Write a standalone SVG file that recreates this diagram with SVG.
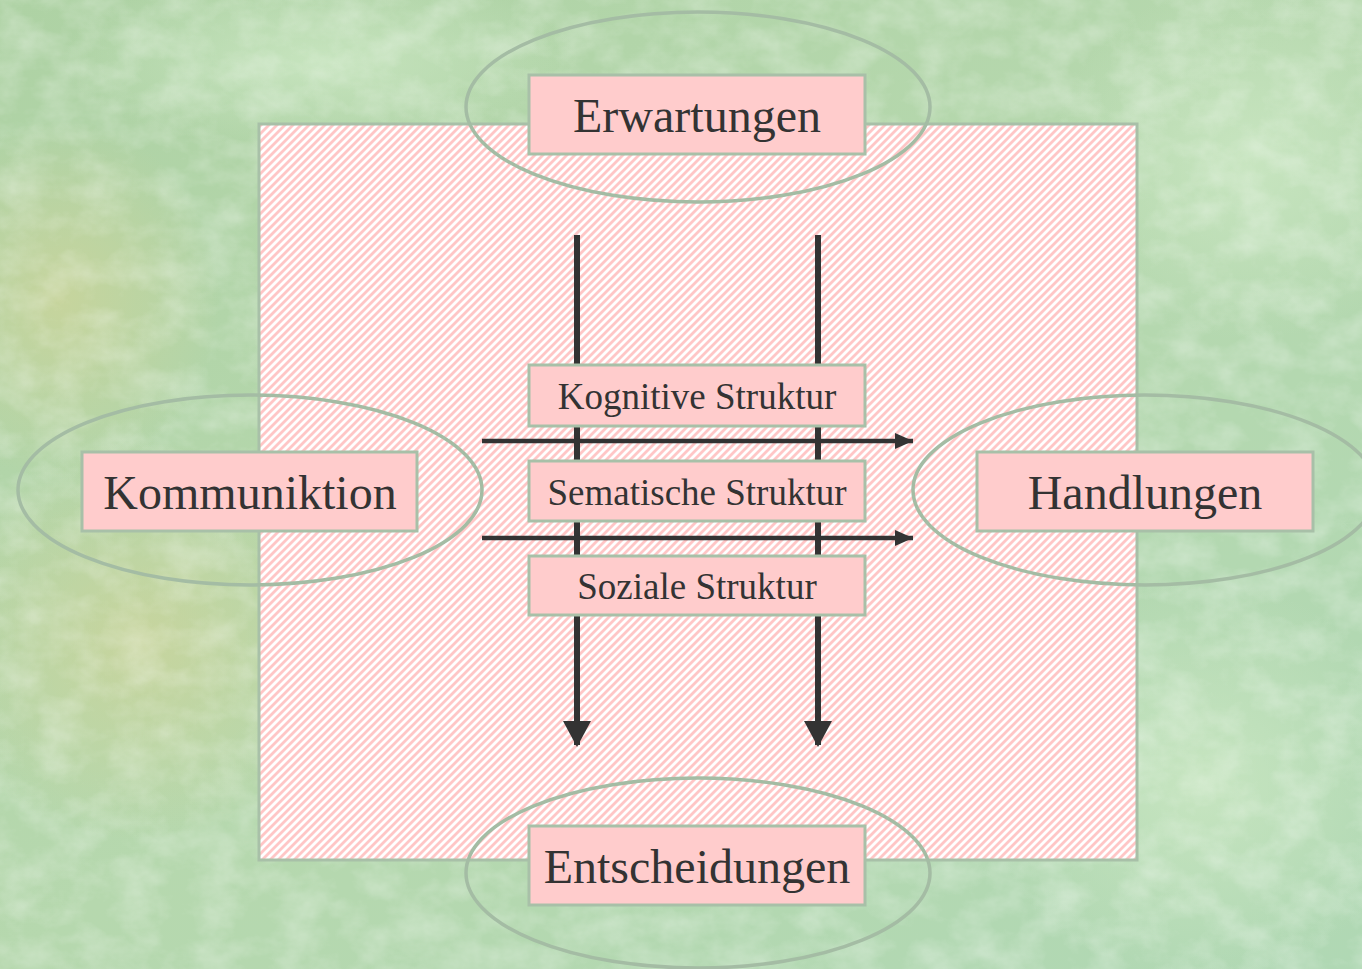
<svg xmlns="http://www.w3.org/2000/svg" width="1362" height="969" viewBox="0 0 1362 969">
<defs>
<style>
.box{fill:#ffcccc;stroke:#a8c0a8;stroke-width:3}
.ell{fill:none;stroke:#a4bca4;stroke-width:3.5}
.big{font-family:"Liberation Serif","Times New Roman",serif;font-size:48px;fill:#333;text-anchor:middle}
.small{font-family:"Liberation Serif","Times New Roman",serif;font-size:37px;fill:#333;text-anchor:middle}
.v{stroke:#333;stroke-width:6;fill:none}
.h{stroke:#333;stroke-width:4.5;fill:none}
</style>
<pattern id="stripes" patternUnits="userSpaceOnUse" width="5.657" height="8" patternTransform="rotate(45)">
<rect width="5.657" height="8" fill="#ffffff"/>
<rect width="2.8" height="8" fill="#ffc6c6"/>
</pattern>
<marker id="ahv" markerWidth="26" markerHeight="28" viewBox="0 0 26 28" refX="24" refY="14" orient="auto" markerUnits="userSpaceOnUse">
<path d="M0,0 L26,14 L0,28 Z" fill="#333"/>
</marker>
<marker id="ahh" markerWidth="18" markerHeight="16" viewBox="0 0 18 16" refX="18" refY="8" orient="auto" markerUnits="userSpaceOnUse">
<path d="M0,0 L18,8 L0,16 Z" fill="#333"/>
</marker>
<linearGradient id="bg" x1="0" y1="0" x2="1" y2="1">
<stop offset="0" stop-color="#aed2a4"/>
<stop offset="0.5" stop-color="#b6d8ae"/>
<stop offset="1" stop-color="#b0d8b4"/>
</linearGradient>
<radialGradient id="y1" cx="0.5" cy="0.5" r="0.5">
<stop offset="0" stop-color="#ccd49a" stop-opacity="0.8"/>
<stop offset="1" stop-color="#ccd49a" stop-opacity="0"/>
</radialGradient>
<radialGradient id="l1" cx="0.5" cy="0.5" r="0.5">
<stop offset="0" stop-color="#cce8c4" stop-opacity="0.8"/>
<stop offset="1" stop-color="#cce8c4" stop-opacity="0"/>
</radialGradient>
<filter id="tex" x="0" y="0" width="100%" height="100%">
<feTurbulence type="fractalNoise" baseFrequency="0.025 0.035" numOctaves="4" seed="3" result="n"/>
<feColorMatrix type="matrix" values="0 0 0 0 1  0 0 0 0 1  0 0 0 0 1  1.4 0 0 0 -0.5" in="n"/>
</filter>
</defs>
<g id="background">
<rect width="1362" height="969" fill="url(#bg)"/>
<ellipse cx="140" cy="640" rx="220" ry="200" fill="url(#y1)"/>
<ellipse cx="60" cy="300" rx="160" ry="180" fill="url(#y1)"/>
<ellipse cx="1250" cy="160" rx="200" ry="180" fill="url(#l1)"/>
<ellipse cx="1200" cy="780" rx="220" ry="200" fill="url(#l1)"/>
<ellipse cx="320" cy="60" rx="260" ry="90" fill="url(#l1)"/>
<rect width="1362" height="969" filter="url(#tex)" opacity="0.4"/>
</g>
<g id="frame">
<rect x="259" y="124" width="878" height="736" fill="url(#stripes)" stroke="#a8c0a8" stroke-width="3"/>
</g>
<g id="ellipses">
<ellipse class="ell" cx="698" cy="107" rx="232" ry="95"/>
<ellipse class="ell" cx="250" cy="490" rx="232" ry="95"/>
<ellipse class="ell" cx="1145" cy="490" rx="232" ry="95"/>
<ellipse class="ell" cx="698" cy="873" rx="232" ry="95"/>
</g>
<g id="connectors">
<line class="v" x1="577" y1="235" x2="577" y2="745" marker-end="url(#ahv)"/>
<line class="v" x1="818" y1="235" x2="818" y2="745" marker-end="url(#ahv)"/>
<line class="h" x1="482" y1="441" x2="913" y2="441" marker-end="url(#ahh)"/>
<line class="h" x1="482" y1="538" x2="913" y2="538" marker-end="url(#ahh)"/>
</g>
<g id="erwartungen">
<rect class="box" x="529" y="75" width="336" height="79"/>
<text class="big" x="697" y="132">Erwartungen</text>
</g>
<g id="kommuniktion">
<rect class="box" x="82" y="452" width="335" height="79"/>
<text class="big" x="250" y="509">Kommuniktion</text>
</g>
<g id="handlungen">
<rect class="box" x="977" y="452" width="336" height="79"/>
<text class="big" x="1145" y="509">Handlungen</text>
</g>
<g id="entscheidungen">
<rect class="box" x="529" y="826" width="336" height="79"/>
<text class="big" x="697" y="883">Entscheidungen</text>
</g>
<g id="kognitive">
<rect class="box" x="529" y="365" width="336" height="61"/>
<text class="small" x="697" y="409">Kognitive Struktur</text>
</g>
<g id="sematische">
<rect class="box" x="529" y="461" width="336" height="60"/>
<text class="small" x="697" y="505">Sematische Struktur</text>
</g>
<g id="soziale">
<rect class="box" x="529" y="556" width="336" height="59"/>
<text class="small" x="697" y="599">Soziale Struktur</text>
</g>
</svg>
